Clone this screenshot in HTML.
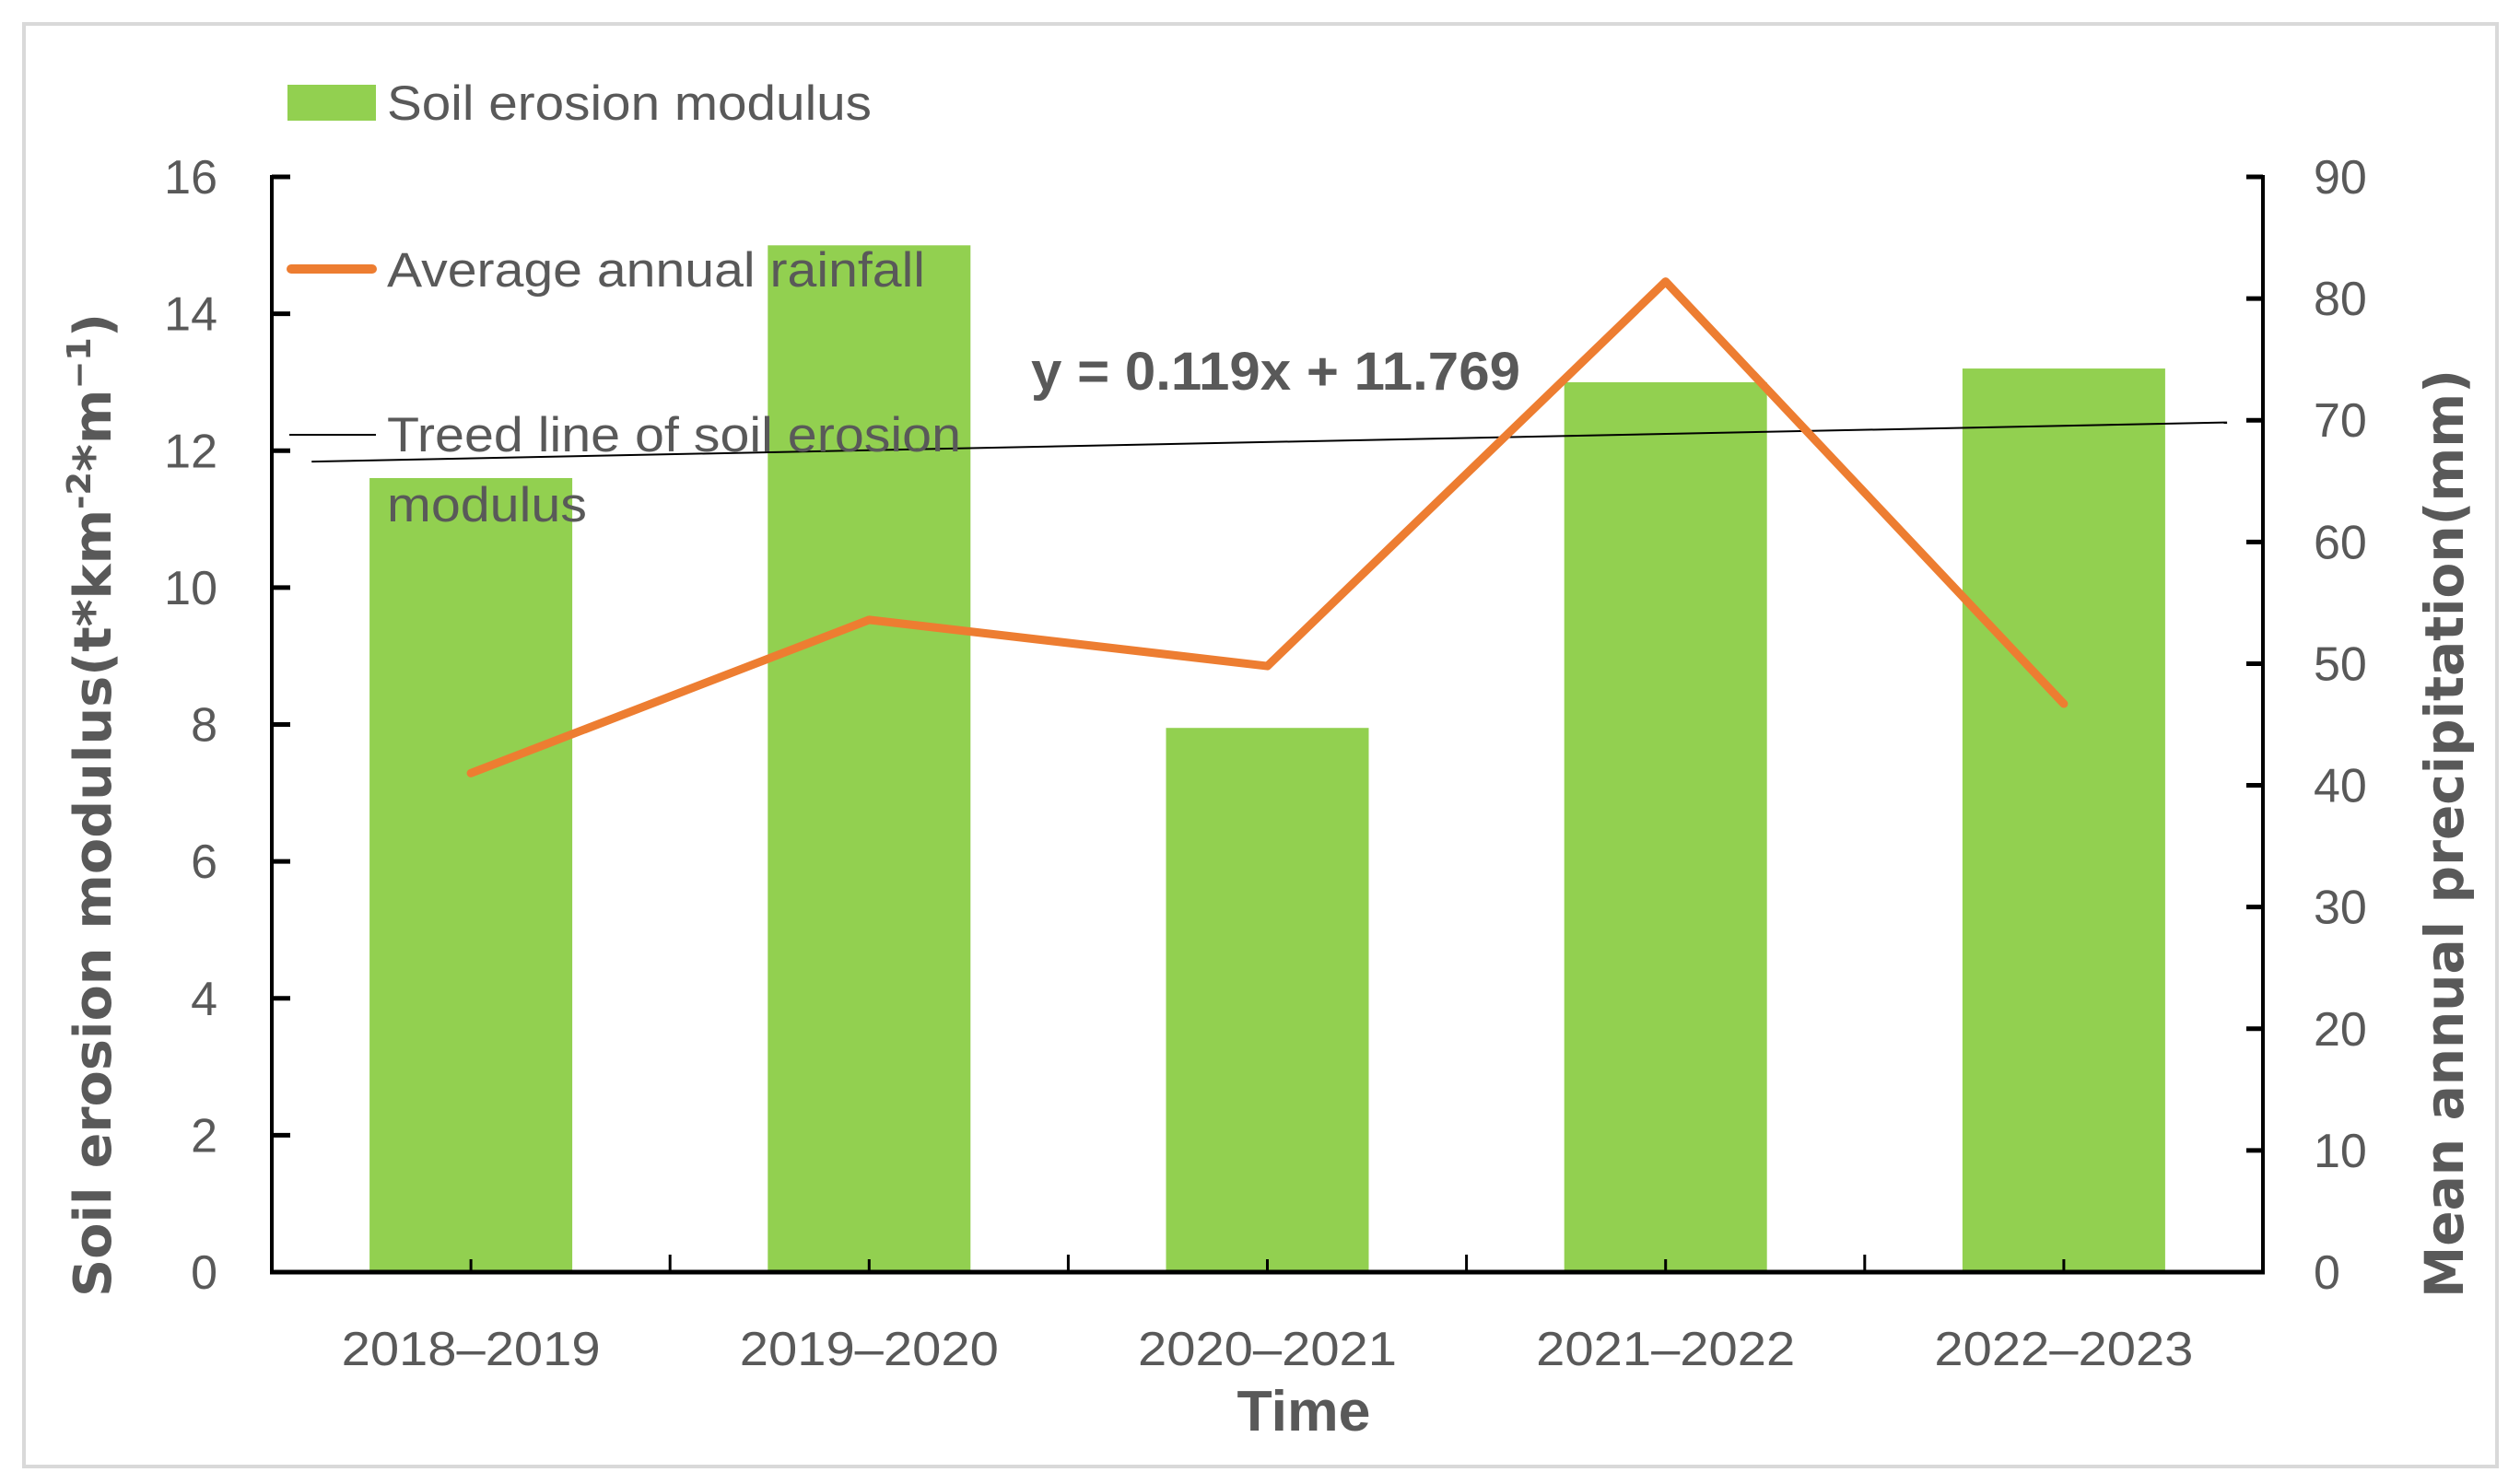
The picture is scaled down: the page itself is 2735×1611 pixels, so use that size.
<!DOCTYPE html>
<html><head><meta charset="utf-8"><style>
html,body{margin:0;padding:0;background:#fff;}
svg{display:block;}
text{font-family:"Liberation Sans",sans-serif;fill:#595959;}
.b{font-family:"DejaVu Sans","Liberation Sans",sans-serif;font-weight:bold;}
</style></head><body>
<svg id="chart" width="2735" height="1611" viewBox="0 0 2735 1611" xmlns="http://www.w3.org/2000/svg">
<rect x="26" y="26" width="2684" height="1566" fill="#fff" stroke="#d9d9d9" stroke-width="4"/>
<g id="bars"></g>
<g id="axes"></g>
<g id="trend"></g>
<g id="line"></g>
<g id="labels"></g>
<!-- legend -->
<rect x="312" y="92" width="96" height="39" fill="#92d050"/>
<text x="420" y="130" font-size="53" textLength="526" lengthAdjust="spacingAndGlyphs">Soil erosion modulus</text>
<line x1="316" y1="292" x2="404" y2="292" stroke="#ed7d31" stroke-width="10" stroke-linecap="round"/>
<text x="420" y="311" font-size="53" textLength="584" lengthAdjust="spacingAndGlyphs">Average annual rainfall</text>
<line x1="314" y1="472" x2="408" y2="472" stroke="#000" stroke-width="2"/>
<text x="420" y="490" font-size="53" textLength="623" lengthAdjust="spacingAndGlyphs">Treed line of soil erosion</text>
<text x="420" y="566" font-size="53" textLength="217" lengthAdjust="spacingAndGlyphs">modulus</text>
<text x="1119" y="423" font-size="58" font-weight="bold" style="font-family:'Liberation Sans',sans-serif" textLength="531" lengthAdjust="spacingAndGlyphs">y = 0.119x + 11.769</text>
<text x="1415" y="1553" font-size="62" font-weight="bold" style="font-family:'Liberation Sans',sans-serif" text-anchor="middle" textLength="145" lengthAdjust="spacingAndGlyphs">Time</text>
<text class="b" transform="translate(120,874) rotate(-90)" font-size="56" text-anchor="middle" textLength="1068" lengthAdjust="spacingAndGlyphs">Soil erosion modulus(t*km<tspan font-size="36" dy="-22">-2</tspan><tspan dy="22">*m</tspan><tspan font-size="36" dy="-22">−1</tspan><tspan dy="22">)</tspan></text>
<text class="b" transform="translate(2673,905) rotate(-90)" font-size="58" text-anchor="middle" textLength="1008" lengthAdjust="spacingAndGlyphs">Mean annual precipitation(mm)</text>
<script>
const categories = ["2018–2019","2019–2020","2020–2021","2021–2022","2022–2023"];
const erosion = [11.6, 15.0, 7.95, 13.0, 13.2];
const rainfall = [41.0, 53.6, 49.8, 81.4, 46.7];
const leftTicks = [0,2,4,6,8,10,12,14,16];
const rightTicks = [0,10,20,30,40,50,60,70,80,90];
const trendSlope = 0.119;
const trendIntercept = 11.769;

const NS="http://www.w3.org/2000/svg";
const X0=295, X1=2456, Y0=1381, YT=192;
const cw=(X1-X0)/categories.length;
const xc=i=>X0+cw*(i+0.5);
const xv=v=>X0+cw*(v-0.5);
const yL=v=>Y0-(Y0-YT)*v/16;
const yR=v=>Y0-(Y0-YT)*v/90;
function mk(tag,attrs,parent){const e=document.createElementNS(NS,tag);for(const k in attrs)e.setAttribute(k,attrs[k]);document.getElementById(parent).appendChild(e);return e;}

erosion.forEach((v,i)=>{
  const r=mk('rect',{x:xc(i)-110,y:yL(v),width:220,height:Y0-yL(v),fill:'#92d050'},'bars');
  
  
});
let a=mk('line',{x1:X0,y1:YT-2,x2:X0,y2:Y0+2,stroke:'#000','stroke-width':4},'axes');


a=mk('line',{x1:X1,y1:YT-2,x2:X1,y2:Y0+2,stroke:'#000','stroke-width':4},'axes');


a=mk('line',{x1:X0-2,y1:Y0,x2:X1+2,y2:Y0,stroke:'#000','stroke-width':5},'axes');


leftTicks.forEach(v=>{
  const t=mk('line',{x1:X0,y1:yL(v),x2:X0+20,y2:yL(v),stroke:'#000','stroke-width':5},'axes');
  
  
  const l=mk('text',{x:236,y:yL(v)+18,'font-size':52,'text-anchor':'end'},'labels');
  l.textContent=v;
  
  
});
rightTicks.forEach(v=>{
  const t=mk('line',{x1:X1-18,y1:yR(v),x2:X1,y2:yR(v),stroke:'#000','stroke-width':5},'axes');
  
  
  const l=mk('text',{x:2511,y:yR(v)+18,'font-size':52},'labels');
  l.textContent=v;
  
  
});
for(let i=0;i<=categories.length;i++){
  const x=X0+cw*i;
  const t=mk('line',{x1:x,y1:Y0-19,x2:x,y2:Y0,stroke:'#000','stroke-width':3},'axes');
  
  
}
categories.forEach((c,i)=>{
  const t=mk('line',{x1:xc(i),y1:Y0-14,x2:xc(i),y2:Y0,stroke:'#000','stroke-width':3},'axes');
  
  
  const l=mk('text',{x:xc(i),y:1482,'font-size':52,'text-anchor':'middle',textLength:281,lengthAdjust:'spacingAndGlyphs'},'labels');
  l.textContent=c;
  
  
});
const tx0=0.60, tx1=5.41;
const tr=mk('line',{x1:xv(tx0),y1:yL(trendSlope*tx0+trendIntercept),x2:xv(tx1),y2:yL(trendSlope*tx1+trendIntercept),stroke:'#000','stroke-width':2},'trend');


const pts=rainfall.map((v,i)=>xc(i)+','+yR(v)).join(' ');
const pl=mk('polyline',{points:pts,fill:'none',stroke:'#ed7d31','stroke-width':9,'stroke-linecap':'round','stroke-linejoin':'round'},'line');


</script>
</svg>
</body></html>
